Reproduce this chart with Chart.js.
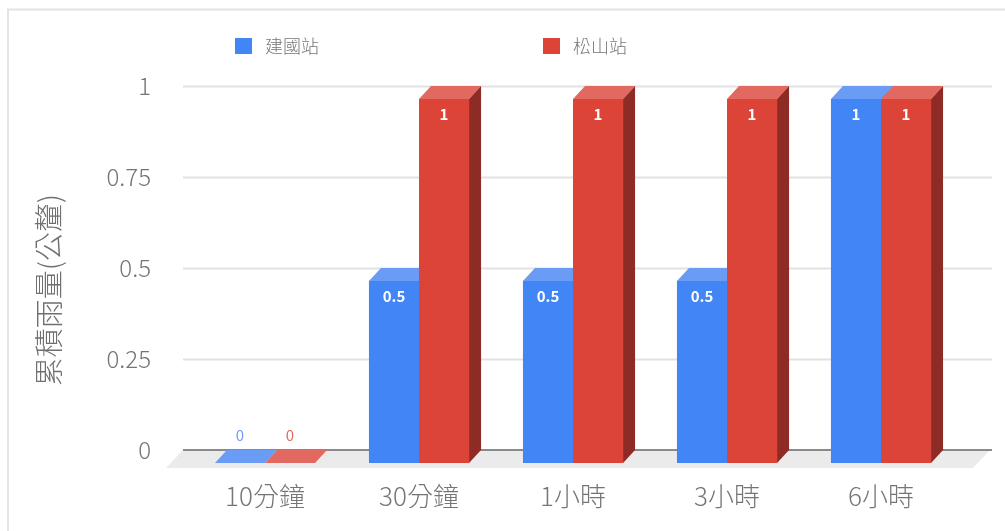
<!DOCTYPE html>
<html><head><meta charset="utf-8">
<script src="https://cdn.jsdelivr.net/npm/chart.js@4.4.0/dist/chart.umd.min.js"></script>
<style>html,body{margin:0;padding:0;background:#fff;} #wrap{width:1005px;height:531px;position:relative;}</style>
</head><body><div id="wrap"><canvas id="c" width="1005" height="531"></canvas></div>
<script>
// ---- data ----
const categories = ['10分鐘', '30分鐘', '1小時', '3小時', '6小時'];
const seriesNames = ['建國站', '松山站'];
const jianguoValues = [0, 0.5, 0.5, 0.5, 1];
const songshanValues = [0, 1, 1, 1, 1];
const yTickValues = [0, 0.25, 0.5, 0.75, 1];
const yTickLabels = ['0', '0.25', '0.5', '0.75', '1'];
const yTitle = '累積雨量(公釐)';

// ---- style ----
const FONT = '"Noto Sans CJK TC", "Noto Sans", sans-serif';
const TEXT = '#757575';
const STYLE = [
  { front: '#4285F4', top: '#6A9CF6', side: '#2C5FB8' },
  { front: '#DB4437', top: '#E2695F', side: '#8E2B24' }
];
const BAR_DX = 12, BAR_DY = 13, FLOOR_DX = 17, FLOOR_DY = 18;

function fmt(v) { return String(v); }

const threeD = {
  id: 'threeD',
  beforeDraw(chart) {
    const ctx = chart.ctx;
    ctx.save();
    ctx.strokeStyle = '#e3e3e3';
    ctx.lineWidth = 2;
    ctx.beginPath();
    ctx.moveTo(8, 531); ctx.lineTo(8, 9.5); ctx.lineTo(1005, 9.5);
    ctx.stroke();
    ctx.restore();
  },
  beforeDatasetsDraw(chart) {
    const ctx = chart.ctx, ys = chart.scales.y, a = chart.chartArea;
    const gl = a.left - 17, gr = a.right + 22;
    ctx.save();
    ctx.strokeStyle = '#e2e2e2';
    ctx.lineWidth = 2;
    yTickValues.forEach(v => {
      if (v === 0) return;
      const py = Math.round(ys.getPixelForValue(v)) + 0.5;
      ctx.beginPath(); ctx.moveTo(gl, py); ctx.lineTo(gr, py); ctx.stroke();
    });
    const y0 = ys.getPixelForValue(0);
    // floor
    ctx.fillStyle = '#ebebeb';
    ctx.beginPath();
    ctx.moveTo(gl, y0); ctx.lineTo(gr - 2, y0);
    ctx.lineTo(gr - 2 - FLOOR_DX, y0 + FLOOR_DY); ctx.lineTo(gl - FLOOR_DX, y0 + FLOOR_DY);
    ctx.closePath(); ctx.fill();
    // baseline
    ctx.strokeStyle = '#8a8a8a';
    ctx.lineWidth = 2;
    ctx.beginPath(); ctx.moveTo(gl, y0); ctx.lineTo(gr, y0); ctx.stroke();
    ctx.restore();
  },
  beforeDatasetDraw() { return false; },
  afterDatasetsDraw(chart) {
    const ctx = chart.ctx;
    const n = chart.data.labels.length;
    const labels = [];
    ctx.save();
    for (let i = 0; i < n; i++) {
      chart.data.datasets.forEach((ds, d) => {
        const el = chart.getDatasetMeta(d).data[i];
        const p = el.getProps(['x', 'y', 'base', 'width'], true);
        const st = STYLE[d];
        const xl = p.x - p.width / 2, xr = p.x + p.width / 2;
        const v = ds.data[i];
        // top face
        ctx.fillStyle = st.top;
        ctx.beginPath();
        ctx.moveTo(xl - BAR_DX, p.y + BAR_DY); ctx.lineTo(xr - BAR_DX, p.y + BAR_DY);
        ctx.lineTo(xr, p.y); ctx.lineTo(xl, p.y); ctx.closePath(); ctx.fill();
        if (v > 0) {
          // side face
          ctx.fillStyle = st.side;
          ctx.beginPath();
          ctx.moveTo(xr - BAR_DX, p.y + BAR_DY); ctx.lineTo(xr, p.y);
          ctx.lineTo(xr, p.base); ctx.lineTo(xr - BAR_DX, p.base + BAR_DY);
          ctx.closePath(); ctx.fill();
          // front face
          ctx.fillStyle = st.front;
          ctx.fillRect(xl - BAR_DX, p.y + BAR_DY, p.width, p.base - p.y);
          labels.push({ t: fmt(v), x: p.x - BAR_DX, y: p.y + BAR_DY + 15, c: '#ffffff', bold: true });
        } else {
          labels.push({ t: fmt(v), x: p.x - BAR_DX, y: p.y - 15, c: st.top, bold: false });
        }
      });
    }
    ctx.textAlign = 'center';
    ctx.textBaseline = 'middle';
    labels.forEach(l => {
      ctx.font = (l.bold ? 'bold ' : '') + '15px ' + FONT;
      ctx.fillStyle = l.c;
      ctx.fillText(l.t, l.x, l.y);
    });
    ctx.restore();
  },
  afterDraw(chart) {
    const ctx = chart.ctx;
    ctx.save();
    // y title
    ctx.translate(49, 290);
    ctx.rotate(-Math.PI / 2);
    ctx.font = '300 29px ' + FONT;
    ctx.fillStyle = '#707070';
    ctx.textAlign = 'center';
    ctx.textBaseline = 'middle';
    ctx.fillText(yTitle, 0, 0);
    ctx.restore();
    // legend
    ctx.save();
    const lx = [235, 543];
    chart.data.datasets.forEach((ds, d) => {
      ctx.fillStyle = STYLE[d].front;
      ctx.fillRect(lx[d], 38, 17, 16);
      ctx.font = '300 18px ' + FONT;
      ctx.fillStyle = TEXT;
      ctx.textAlign = 'left';
      ctx.textBaseline = 'middle';
      ctx.fillText(ds.label, lx[d] + 30, 46);
    });
    ctx.restore();
  }
};

new Chart(document.getElementById('c'), {
  type: 'bar',
  data: {
    labels: categories,
    datasets: [
      { label: seriesNames[0], data: jianguoValues, backgroundColor: STYLE[0].front },
      { label: seriesNames[1], data: songshanValues, backgroundColor: STYLE[1].front }
    ]
  },
  options: {
    responsive: false,
    animation: false,
    devicePixelRatio: 1,
    datasets: { bar: { categoryPercentage: 0.65, barPercentage: 1 } },
    layout: { padding: { top: 86, right: 35, bottom: 0, left: 0 } },
    plugins: { legend: { display: false }, tooltip: { enabled: false } },
    scales: {
      x: {
        grid: { display: false, drawTicks: false },
        border: { display: false },
        ticks: { font: { family: FONT, size: 26, weight: '300' }, color: TEXT, padding: 31, labelOffset: -12, maxRotation: 0, autoSkip: false },
        afterFit(s) { s.height = 81; }
      },
      y: {
        min: 0, max: 1,
        grid: { display: false, drawTicks: false },
        border: { display: false },
        afterBuildTicks(s) { s.ticks = yTickValues.map(v => ({ value: v })); },
        ticks: {
          font: { family: FONT, size: 24, weight: '300' }, color: TEXT, padding: 49,
          callback(v) { const i = yTickValues.indexOf(v); return i >= 0 ? yTickLabels[i] : ''; }
        },
        afterFit(s) { s.width = 200; }
      }
    }
  },
  plugins: [threeD]
});
</script></body></html>
